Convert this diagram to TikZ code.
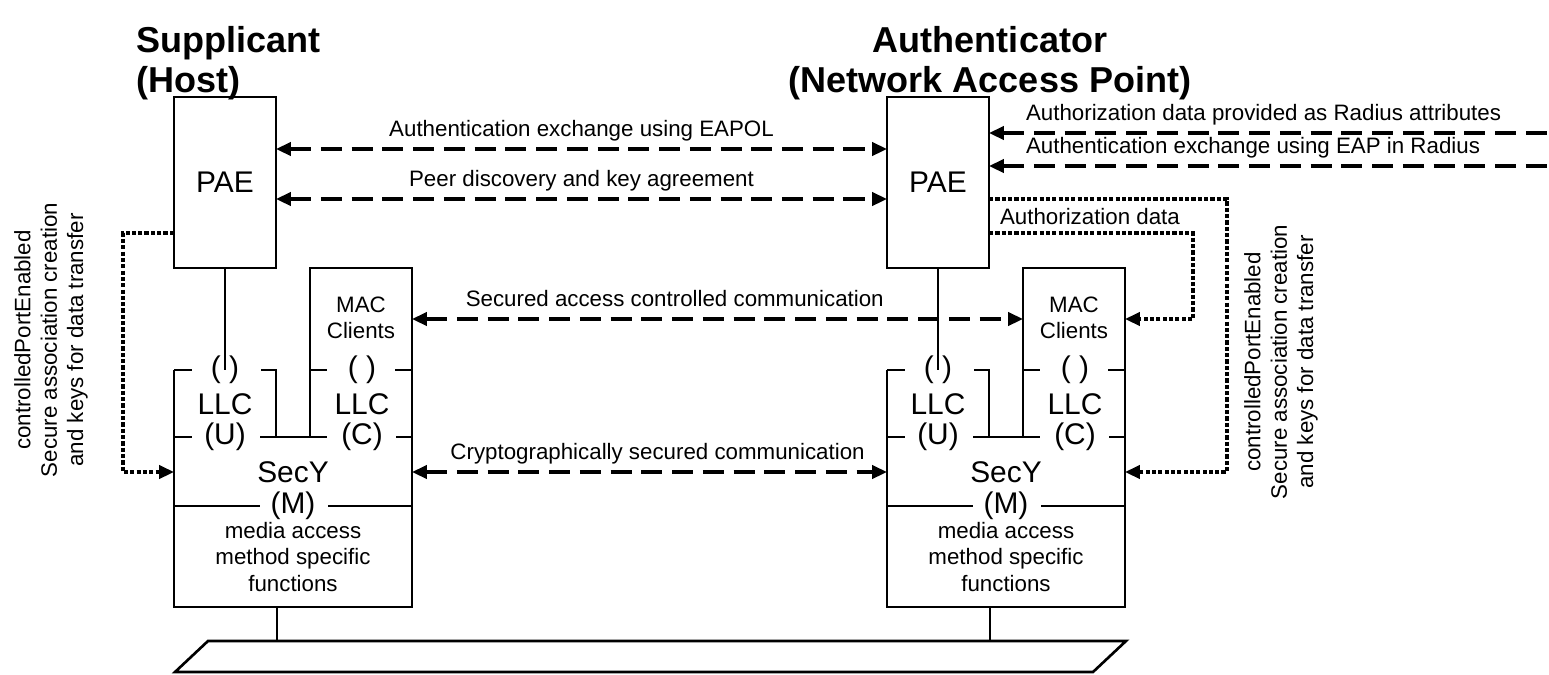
\documentclass[tikz,border=0pt]{standalone}
\usepackage{fontspec}
\setmainfont{Liberation Sans}
\usetikzlibrary{arrows.meta,positioning}

\tikzset{
  >={Triangle[length=8.5pt,width=7.5pt]},
  box/.style={draw,line width=1.5pt,inner sep=0pt,outer sep=0pt},
  title/.style={font=\fontsize{20.5}{23}\selectfont\bfseries,inner sep=0pt},
  big/.style={font=\fontsize{17}{19}\selectfont,inner sep=1pt},
  small/.style={font=\fontsize{12.7}{15}\selectfont,align=center},
  lbl/.style={small,text depth=3pt,inner sep=3pt,above},
  exch/.style={line width=2pt,dash pattern=on 12pt off 5.5pt},
  ctrl/.style={->,line width=2pt,dash pattern=on 2.4pt off 1.2pt},
}

\begin{document}
\begin{tikzpicture}[x=0.02cm,y=-0.02cm,line width=1.5pt]
\useasboundingbox (0,0) rectangle (1549,674);

% titles
\node[title,align=left,anchor=west] (sup-title) at (135,63) {Supplicant\\(Host)};
\node[title,align=center] (auth-title) at (990,63) {Authenticator\\(Network Access Point)};

% the two stations
\foreach \s/\d in {sup/0,auth/713}{
\begin{scope}[shift={(\d,0)}]
  \node[box,big,minimum width=2.04cm,minimum height=3.42cm] (\s-pae) at (225,182.5) {PAE};
  \node[big] (\s-pu) at (225,370) {( )};
  \node[big] (\s-llcu) at (225,404) {LLC};
  \node[big] (\s-u) at (225,437) {(U)};
  \node[small] (\s-mac) at (361,318) {MAC\\Clients};
  \node[big] (\s-pc) at (362,370) {( )};
  \node[big] (\s-llcc) at (362,404) {LLC};
  \node[big] (\s-c) at (362,437) {(C)};
  \node[big] (\s-secy) at (293,472) {SecY};
  \node[big] (\s-m) at (293,506) {(M)};
  \node[small] (\s-media) at (293,557) {media access\\method specific\\functions};
  \coordinate (\s-w) at (174,472);
  \coordinate (\s-e) at (412,472);
  \coordinate (\s-macw) at (310,319);
  \coordinate (\s-mace) at (412,319);
  \coordinate (\s-bot) at (277,607);
  % outline of the stack
  \draw (174,370) -- (174,607) -- (412,607) -- (412,268) -- (310,268) -- (310,437);
  \draw (174,370) -- (192,370) (261,370) -- (276,370) -- (276,437);
  \draw (310,370) -- (327,370) (395,370) -- (412,370);
  \draw (174,437) -- (192,437) (260,437) -- (327,437) (396,437) -- (412,437);
  \draw (174,506) -- (260,506) (328,506) -- (412,506);
  \draw (\s-pae.south -| \s-pu) -- (\s-pu.center);
\end{scope}
}

% the LAN
\draw (208,641) coordinate (lan-nw) -- (1126,641) -- (1093,672) -- (175,672) -- cycle;
\draw (sup-bot) -- (sup-bot |- lan-nw);
\draw (auth-bot) -- (auth-bot |- lan-nw);

% exchanges
\draw[exch,<->] (sup-pae.east |- 0,149) -- node[lbl]{Authentication exchange using EAPOL} (auth-pae.west |- 0,149);
\draw[exch,<->] (sup-pae.east |- 0,199) -- node[lbl]{Peer discovery and key agreement} (auth-pae.west |- 0,199);
\draw[exch,<->] (sup-mace) -- node[lbl,pos=0.43]{Secured access controlled communication} (auth-macw);
\draw[exch,<->] (sup-e) -- node[lbl,pos=0.517]{Cryptographically secured communication} (auth-w);

\coordinate (rad-a) at (1549,133);
\coordinate (rad-b) at (1549,166);
\draw[exch,<-] (auth-pae.east |- rad-a) -- node[lbl,at start,anchor=south west,xshift=0.6cm]{Authorization data provided as Radius attributes} (rad-a);
\draw[exch,<-] (auth-pae.east |- rad-b) -- node[lbl,at start,anchor=south west,xshift=0.6cm]{Authentication exchange using EAP in Radius} (rad-b);

% control lines
\draw[ctrl] (sup-pae.west |- 0,233) -- (123,233) |- (sup-w);
\draw[ctrl] (auth-pae.east |- 0,199) -- (1227,199) |- (auth-e);
\draw[ctrl] (auth-pae.east |- 0,233) -- node[lbl,at start,anchor=south west,xshift=0.08cm,yshift=-2pt]{Authorization data} (1193,233) |- (auth-mace);

\node[small,rotate=90] (sup-ctrl) at (51,340) {controlledPortEnabled\\Secure association creation\\and keys for data transfer};
\node[small,rotate=90] (auth-ctrl) at (1281,362) {controlledPortEnabled\\Secure association creation\\and keys for data transfer};
\end{tikzpicture}
\end{document}
